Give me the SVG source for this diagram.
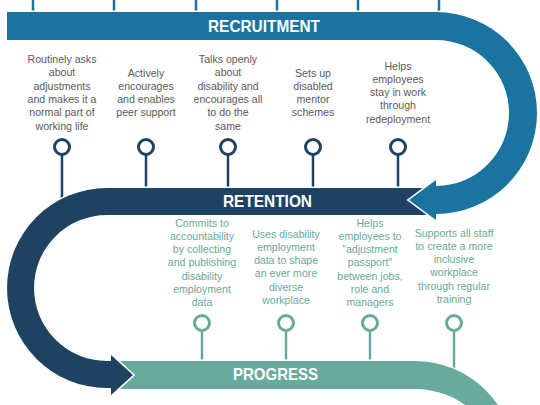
<svg xmlns="http://www.w3.org/2000/svg" width="540" height="405" viewBox="0 0 540 405">
<style>
.band{stroke:#fff;stroke-width:3;paint-order:stroke;stroke-linejoin:miter}
.hdr{font-family:"Liberation Sans",Arial,sans-serif;font-weight:bold;fill:#fff;font-size:16.5px;text-anchor:middle}
.t{font-family:"Liberation Sans",Arial,sans-serif;font-size:10.6px;text-anchor:middle}
.tg{fill:#5a5a5a}
.tt{fill:#68a999}
.pn{fill:#fff;stroke:#1f4262;stroke-width:3}
.pt{fill:#fff;stroke:#68ab9c;stroke-width:3}
.sb{stroke:#1b74a0;stroke-width:2.5}
.sn{stroke:#1f4262;stroke-width:2.5}
.st{stroke:#68ab9c;stroke-width:2.5}
</style>
<g id="connectors">
<line class="sb" x1="33" y1="0" x2="33" y2="14"/>
<line class="sb" x1="114" y1="0" x2="114" y2="14"/>
<line class="sb" x1="196" y1="0" x2="196" y2="14"/>
<line class="sb" x1="277" y1="0" x2="277" y2="14"/>
<line class="sb" x1="358" y1="0" x2="358" y2="14"/>
<line class="sb" x1="439" y1="0" x2="439" y2="14"/>
<line class="sn" x1="62" y1="155" x2="62" y2="200"/>
<line class="sn" x1="146" y1="155" x2="146" y2="195"/>
<line class="sn" x1="228" y1="155" x2="228" y2="195"/>
<line class="sn" x1="313" y1="155" x2="313" y2="195"/>
<line class="sn" x1="398" y1="155" x2="398" y2="195"/>
<line class="st" x1="202" y1="331" x2="202" y2="368"/>
<line class="st" x1="286" y1="331" x2="286" y2="368"/>
<line class="st" x1="370" y1="331" x2="370" y2="368"/>
<line class="st" x1="454" y1="331" x2="454" y2="368"/>
</g>
<g id="progress">
<path class="band" fill="#68ab9c" d="M118 361 L415 361 A100 100 0 0 1 515 461 L495 461 A80 72 0 0 0 415 389 L118 389 Z"/>
<text class="hdr" x="275.5" y="380" textLength="85" lengthAdjust="spacingAndGlyphs">PROGRESS</text>
</g>
<g id="retention">
<path class="band" fill="#1f4262" d="M430 188 L107 188 A100 100 0 0 0 107 388 L111 388 L111 395 L133 375 L111 355 L111 361 L107 361 A73 73 0 0 1 107 215 L430 215 Z"/>
<text class="hdr" x="267.5" y="207" textLength="89" lengthAdjust="spacingAndGlyphs">RETENTION</text>
</g>
<g id="recruitment">
<path class="band" fill="#1b74a0" d="M7 12 L436 12 A101 101 0 0 1 436 214 L436 220 L409 200 L436 180 L436 186 A73 73 0 0 0 436 40 L7 40 Z"/>
<text class="hdr" x="264" y="32" textLength="112" lengthAdjust="spacingAndGlyphs">RECRUITMENT</text>
</g>
<g id="r1">
<circle class="pn" cx="62" cy="147" r="7.5"/>
<text class="t tg" x="62" y="63"><tspan x="62">Routinely asks</tspan><tspan x="62" dy="13.3">about</tspan><tspan x="62" dy="13.3">adjustments</tspan><tspan x="62" dy="13.3">and makes it a</tspan><tspan x="62" dy="13.3">normal part of</tspan><tspan x="62" dy="13.3">working life</tspan></text>
</g>
<g id="r2">
<circle class="pn" cx="146" cy="147" r="7.5"/>
<text class="t tg" x="146" y="76.5"><tspan x="146">Actively</tspan><tspan x="146" dy="13.3">encourages</tspan><tspan x="146" dy="13.3">and enables</tspan><tspan x="146" dy="13.3">peer support</tspan></text>
</g>
<g id="r3">
<circle class="pn" cx="228" cy="147" r="7.5"/>
<text class="t tg" x="228" y="63"><tspan x="228">Talks openly</tspan><tspan x="228" dy="13.3">about</tspan><tspan x="228" dy="13.3">disability and</tspan><tspan x="228" dy="13.3">encourages all</tspan><tspan x="228" dy="13.3">to do the</tspan><tspan x="228" dy="13.3">same</tspan></text>
</g>
<g id="r4">
<circle class="pn" cx="313" cy="147" r="7.5"/>
<text class="t tg" x="313" y="76.5"><tspan x="313">Sets up</tspan><tspan x="313" dy="13.3">disabled</tspan><tspan x="313" dy="13.3">mentor</tspan><tspan x="313" dy="13.3">schemes</tspan></text>
</g>
<g id="r5">
<circle class="pn" cx="398" cy="147" r="7.5"/>
<text class="t tg" x="398" y="69.5"><tspan x="398">Helps</tspan><tspan x="398" dy="13.3">employees</tspan><tspan x="398" dy="13.3">stay in work</tspan><tspan x="398" dy="13.3">through</tspan><tspan x="398" dy="13.3">redeployment</tspan></text>
</g>
<g id="p1">
<circle class="pt" cx="202" cy="323" r="7.5"/>
<text class="t tt" x="202" y="226.5"><tspan x="202">Commits to</tspan><tspan x="202" dy="13.3">accountability</tspan><tspan x="202" dy="13.3">by collecting</tspan><tspan x="202" dy="13.3">and publishing</tspan><tspan x="202" dy="13.3">disability</tspan><tspan x="202" dy="13.3">employment</tspan><tspan x="202" dy="13.3">data</tspan></text>
</g>
<g id="p2">
<circle class="pt" cx="286" cy="323" r="7.5"/>
<text class="t tt" x="286" y="237.5"><tspan x="286">Uses disability</tspan><tspan x="286" dy="13.3">employment</tspan><tspan x="286" dy="13.3">data to shape</tspan><tspan x="286" dy="13.3">an ever more</tspan><tspan x="286" dy="13.3">diverse</tspan><tspan x="286" dy="13.3">workplace</tspan></text>
</g>
<g id="p3">
<circle class="pt" cx="370" cy="323" r="7.5"/>
<text class="t tt" x="370" y="226.5"><tspan x="370">Helps</tspan><tspan x="370" dy="13.3">employees to</tspan><tspan x="370" dy="13.3">"adjustment</tspan><tspan x="370" dy="13.3">passport"</tspan><tspan x="370" dy="13.3">between jobs,</tspan><tspan x="370" dy="13.3">role and</tspan><tspan x="370" dy="13.3">managers</tspan></text>
</g>
<g id="p4">
<circle class="pt" cx="454" cy="323" r="7.5"/>
<text class="t tt" x="454" y="236.5"><tspan x="454">Supports all staff</tspan><tspan x="454" dy="13.3">to create a more</tspan><tspan x="454" dy="13.3">inclusive</tspan><tspan x="454" dy="13.3">workplace</tspan><tspan x="454" dy="13.3">through regular</tspan><tspan x="454" dy="13.3">training</tspan></text>
</g>
</svg>
